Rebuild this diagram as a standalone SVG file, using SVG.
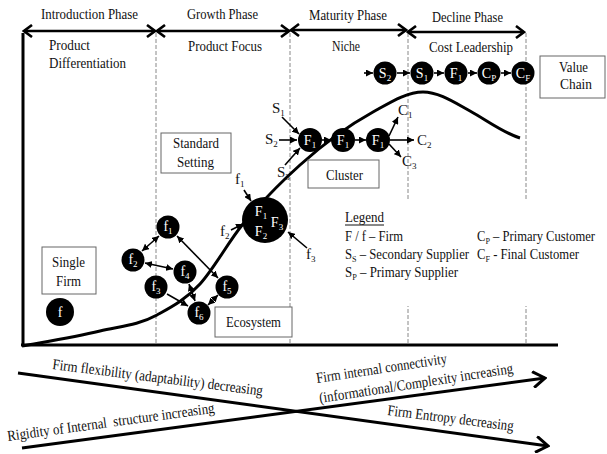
<svg xmlns="http://www.w3.org/2000/svg" width="607" height="454" viewBox="0 0 607 454">
<style>
.t{font-family:"Liberation Serif","Times New Roman",serif;font-size:15px;fill:#111}
.lg{font-size:14px}
.ct{font-family:"Liberation Serif","Times New Roman",serif;font-size:14px;fill:#fff;text-anchor:middle}
.sb{font-size:9px}
.box{fill:#fff;stroke:#666;stroke-width:1}
.c{stroke:#000;stroke-width:1.6;fill:none}
.ph{stroke:#000;stroke-width:2.6;fill:none}
.dash{stroke:#888;stroke-width:1;stroke-dasharray:4 2}
</style>
<defs>
<marker id="ah" viewBox="0 0 8 8" refX="8" refY="4" markerWidth="7" markerHeight="7" markerUnits="userSpaceOnUse" orient="auto-start-reverse"><path d="M0,0 L8,4 L0,8 z" fill="#000"/></marker>
<marker id="chev" viewBox="0 0 12 14" refX="10" refY="7" markerWidth="12" markerHeight="14" markerUnits="userSpaceOnUse" orient="auto-start-reverse"><path d="M2,1 L10,7 L2,13" fill="none" stroke="#000" stroke-width="2.6"/></marker>
<marker id="chevB" viewBox="0 0 16 18" refX="14" refY="9" markerWidth="16" markerHeight="18" markerUnits="userSpaceOnUse" orient="auto"><path d="M2,1 L14,9 L2,17" fill="none" stroke="#000" stroke-width="3"/></marker>
</defs>
<rect width="607" height="454" fill="#fff"/>

<g id="grid">
<line class="dash" x1="156" y1="33" x2="156" y2="344"/>
<line class="dash" x1="290" y1="33" x2="290" y2="344"/>
<line class="dash" x1="408" y1="33" x2="408" y2="344"/>
<line class="dash" x1="526" y1="33" x2="526" y2="344"/>
</g>

<g id="axes">
<line x1="23" y1="33" x2="23" y2="346" stroke="#000" stroke-width="3"/>
<line x1="21" y1="345" x2="558" y2="345" stroke="#000" stroke-width="3"/>
</g>

<g id="phases">
<line class="ph" x1="24" y1="31" x2="155" y2="31" marker-start="url(#chev)" marker-end="url(#chev)"/>
<line class="ph" x1="157" y1="31" x2="289" y2="31" marker-start="url(#chev)" marker-end="url(#chev)"/>
<line class="ph" x1="291" y1="30" x2="406" y2="30" marker-start="url(#chev)" marker-end="url(#chev)"/>
<line class="ph" x1="408" y1="32" x2="524" y2="32" marker-start="url(#chev)" marker-end="url(#chev)"/>
<text class="t" x="41" y="19" textLength="97" lengthAdjust="spacingAndGlyphs">Introduction Phase</text>
<text class="t" x="187" y="19" textLength="71" lengthAdjust="spacingAndGlyphs">Growth Phase</text>
<text class="t" x="309" y="20" textLength="78" lengthAdjust="spacingAndGlyphs">Maturity Phase</text>
<text class="t" x="432" y="22" textLength="71" lengthAdjust="spacingAndGlyphs">Decline Phase</text>
<text class="t" x="49" y="50" textLength="41" lengthAdjust="spacingAndGlyphs">Product</text>
<text class="t" x="49" y="68" textLength="77" lengthAdjust="spacingAndGlyphs">Differentiation</text>
<text class="t" x="188" y="51" textLength="74" lengthAdjust="spacingAndGlyphs">Product Focus</text>
<text class="t" x="332" y="51" textLength="28" lengthAdjust="spacingAndGlyphs">Niche</text>
<text class="t" x="429" y="52" textLength="84" lengthAdjust="spacingAndGlyphs">Cost Leadership</text>
</g>

<g id="curve">
<path d="M22,346 C48,341.3 74,337.2 100,331 C119,326.4 138,325.5 157,315 C171.3,307.1 185.7,299.7 200,284 C214.3,268.3 228.7,241.2 243,224 C262,201.2 281,182.1 300,165 C324.3,143.1 348.7,125.4 373,112 C389.7,102.8 406.3,92 423,92 C438.7,92 454.3,102.4 470,111 C486.7,120.2 503.3,133 520,138" fill="none" stroke="#000" stroke-width="3"/>
</g>

<g id="connectors">
<line class="c" x1="142" y1="251" x2="159" y2="236" marker-start="url(#ah)" marker-end="url(#ah)"/>
<line class="c" x1="145" y1="263" x2="173" y2="269" marker-start="url(#ah)" marker-end="url(#ah)"/>
<line class="c" x1="177" y1="236" x2="218" y2="278" marker-start="url(#ah)" marker-end="url(#ah)"/>
<line class="c" x1="189" y1="284" x2="195" y2="301" marker-start="url(#ah)" marker-end="url(#ah)"/>
<line class="c" x1="167" y1="294" x2="188" y2="306" marker-end="url(#ah)"/>
<line class="c" x1="208" y1="305" x2="218" y2="295" marker-start="url(#ah)" marker-end="url(#ah)"/>
<line class="c" x1="244" y1="190" x2="251" y2="201" marker-end="url(#ah)"/>
<line class="c" x1="231" y1="230" x2="243" y2="224" marker-end="url(#ah)"/>
<line class="c" x1="307" y1="248" x2="288" y2="232" marker-end="url(#ah)"/>
<line class="c" x1="282" y1="117" x2="299" y2="134" marker-end="url(#ah)"/>
<line class="c" x1="279" y1="140" x2="297" y2="140" marker-end="url(#ah)"/>
<line class="c" x1="285" y1="165" x2="300" y2="148" marker-end="url(#ah)"/>
<line class="c" x1="322" y1="140" x2="331" y2="140" marker-end="url(#ah)"/>
<line class="c" x1="355" y1="140" x2="366" y2="140" marker-end="url(#ah)"/>
<line class="c" x1="389" y1="136" x2="398" y2="117" marker-end="url(#ah)"/>
<line class="c" x1="390" y1="140" x2="414" y2="140" marker-end="url(#ah)"/>
<line class="c" x1="389" y1="144" x2="401" y2="157" marker-end="url(#ah)"/>
<line class="c" x1="364" y1="73" x2="373" y2="73" marker-end="url(#ah)"/>
<line class="c" x1="397" y1="73" x2="410" y2="73" marker-end="url(#ah)"/>
<line class="c" x1="434" y1="73" x2="444" y2="73" marker-end="url(#ah)"/>
<line class="c" x1="468" y1="73" x2="477" y2="73" marker-end="url(#ah)"/>
<line class="c" x1="501" y1="73" x2="511" y2="73" marker-end="url(#ah)"/>
</g>

<g id="single-firm">
<rect class="box" x="42" y="247" width="54" height="47"/>
<text class="t" x="52" y="267" textLength="33" lengthAdjust="spacingAndGlyphs">Single</text>
<text class="t" x="56" y="286" textLength="25" lengthAdjust="spacingAndGlyphs">Firm</text>
</g>
<g id="node-f"><circle cx="60" cy="312" r="14" fill="#000"/><text class="ct" x="60" y="317">f</text></g>

<g id="standard-setting">
<rect class="box" x="161" y="133" width="70" height="40"/>
<text class="t" x="173" y="148" textLength="46" lengthAdjust="spacingAndGlyphs">Standard</text>
<text class="t" x="177" y="167" textLength="37" lengthAdjust="spacingAndGlyphs">Setting</text>
</g>

<g id="ecosystem">
<rect class="box" x="215" y="307" width="77" height="30"/>
<text class="t" x="226" y="327" textLength="55" lengthAdjust="spacingAndGlyphs">Ecosystem</text>
</g>
<g id="node-f1"><circle cx="168" cy="227" r="11.5" fill="#000"/><text class="ct" x="168" y="231">f<tspan class="sb" dy="3">1</tspan></text></g>
<g id="node-f2"><circle cx="133" cy="260" r="11.5" fill="#000"/><text class="ct" x="133" y="264">f<tspan class="sb" dy="3">2</tspan></text></g>
<g id="node-f4"><circle cx="185" cy="272" r="11.5" fill="#000"/><text class="ct" x="185" y="276">f<tspan class="sb" dy="3">4</tspan></text></g>
<g id="node-f3"><circle cx="156" cy="287" r="11.5" fill="#000"/><text class="ct" x="156" y="291">f<tspan class="sb" dy="3">3</tspan></text></g>
<g id="node-f5"><circle cx="227" cy="287" r="11.5" fill="#000"/><text class="ct" x="227" y="291">f<tspan class="sb" dy="3">5</tspan></text></g>
<g id="node-f6"><circle cx="199" cy="313" r="11.5" fill="#000"/><text class="ct" x="199" y="317">f<tspan class="sb" dy="3">6</tspan></text></g>

<g id="node-F123">
<circle cx="265" cy="220" r="23" fill="#000"/>
<text class="ct" x="261" y="216">F<tspan class="sb" dy="3">1</tspan></text>
<text class="ct" x="261" y="236">F<tspan class="sb" dy="3">2</tspan></text>
<text class="ct" x="277" y="227">F<tspan class="sb" dy="3">3</tspan></text>
<text class="t" x="235" y="184">f<tspan class="sb" dy="3">1</tspan></text>
<text class="t" x="220" y="236">f<tspan class="sb" dy="3">2</tspan></text>
<text class="t" x="306" y="259">f<tspan class="sb" dy="3">3</tspan></text>
</g>

<g id="cluster">
<rect class="box" x="308" y="160" width="71" height="28"/>
<text class="t" x="326" y="180" textLength="37" lengthAdjust="spacingAndGlyphs">Cluster</text>
</g>
<g id="node-cF1a"><circle cx="310" cy="140" r="12" fill="#000"/><text class="ct" x="310" y="145">F<tspan class="sb" dy="3">1</tspan></text></g>
<g id="node-cF1b"><circle cx="343" cy="140" r="12" fill="#000"/><text class="ct" x="343" y="145">F<tspan class="sb" dy="3">1</tspan></text></g>
<g id="node-cF1c"><circle cx="378" cy="140" r="12" fill="#000"/><text class="ct" x="378" y="145">F<tspan class="sb" dy="3">1</tspan></text></g>
<g id="cluster-labels">
<text class="t" x="272" y="113">S<tspan class="sb" dy="3">1</tspan></text>
<text class="t" x="265" y="144">S<tspan class="sb" dy="3">2</tspan></text>
<text class="t" x="277" y="177">S<tspan class="sb" dy="3">3</tspan></text>
<text class="t" x="398" y="115">C<tspan class="sb" dy="3">1</tspan></text>
<text class="t" x="417" y="145">C<tspan class="sb" dy="3">2</tspan></text>
<text class="t" x="402" y="166">C<tspan class="sb" dy="3">3</tspan></text>
</g>

<g id="value-chain">
<rect class="box" x="540" y="56" width="65" height="42"/>
<text class="t" x="559" y="72" textLength="29" lengthAdjust="spacingAndGlyphs">Value</text>
<text class="t" x="560" y="89" textLength="32" lengthAdjust="spacingAndGlyphs">Chain</text>
</g>
<g id="node-vS2"><circle cx="385" cy="73" r="11.5" fill="#000"/><text class="ct" x="385" y="78">S<tspan class="sb" dy="3">2</tspan></text></g>
<g id="node-vS1"><circle cx="422" cy="73" r="11.5" fill="#000"/><text class="ct" x="422" y="78">S<tspan class="sb" dy="3">1</tspan></text></g>
<g id="node-vF1"><circle cx="456" cy="73" r="11.5" fill="#000"/><text class="ct" x="456" y="78">F<tspan class="sb" dy="3">1</tspan></text></g>
<g id="node-vCP"><circle cx="489" cy="73" r="11.5" fill="#000"/><text class="ct" x="489" y="78">C<tspan class="sb" dy="3">P</tspan></text></g>
<g id="node-vCF"><circle cx="523" cy="73" r="11.5" fill="#000"/><text class="ct" x="523" y="78">C<tspan class="sb" dy="3">F</tspan></text></g>

<g id="legend">
<rect x="340" y="201" width="262" height="105" fill="#fff"/>
<text class="t" x="345" y="222" textLength="39" lengthAdjust="spacingAndGlyphs">Legend</text>
<line x1="345" y1="225" x2="384" y2="225" stroke="#111" stroke-width="1"/>
<text class="t lg" x="345" y="241" textLength="58" lengthAdjust="spacingAndGlyphs">F / f – Firm</text>
<text class="t lg" x="345" y="259" textLength="124" lengthAdjust="spacingAndGlyphs">S<tspan class="sb" dy="3">S</tspan><tspan dy="-3"> – Secondary Supplier</tspan></text>
<text class="t lg" x="345" y="277" textLength="113" lengthAdjust="spacingAndGlyphs">S<tspan class="sb" dy="3">P</tspan><tspan dy="-3"> – Primary Supplier</tspan></text>
<text class="t lg" x="477" y="241" textLength="118" lengthAdjust="spacingAndGlyphs">C<tspan class="sb" dy="3">P</tspan><tspan dy="-3"> – Primary Customer</tspan></text>
<text class="t lg" x="477" y="259" textLength="102" lengthAdjust="spacingAndGlyphs">C<tspan class="sb" dy="3">F</tspan><tspan dy="-3"> - Final Customer</tspan></text>
</g>

<g id="trends">
<line x1="18" y1="373" x2="548" y2="446" stroke="#000" stroke-width="3" marker-end="url(#chevB)"/>
<line x1="22" y1="448" x2="545" y2="378" stroke="#000" stroke-width="3" marker-end="url(#chevB)"/>
<text class="t" x="52" y="369" transform="rotate(7.2 52 369)" textLength="212" lengthAdjust="spacingAndGlyphs">Firm flexibility (adaptability) decreasing</text>
<text class="t" x="8" y="441" transform="rotate(-7.8 8 441)" textLength="209" lengthAdjust="spacingAndGlyphs" xml:space="preserve">Rigidity of Internal  structure increasing</text>
<text class="t" x="317" y="383" transform="rotate(-8.6 317 383)" textLength="132" lengthAdjust="spacingAndGlyphs">Firm internal connectivity</text>
<text class="t" x="320" y="403" transform="rotate(-8.8 320 403)" textLength="196" lengthAdjust="spacingAndGlyphs">(informational/Complexity increasing</text>
<text class="t" x="387" y="415" transform="rotate(7.2 387 415)" textLength="127" lengthAdjust="spacingAndGlyphs">Firm Entropy decreasing</text>
</g>
</svg>
